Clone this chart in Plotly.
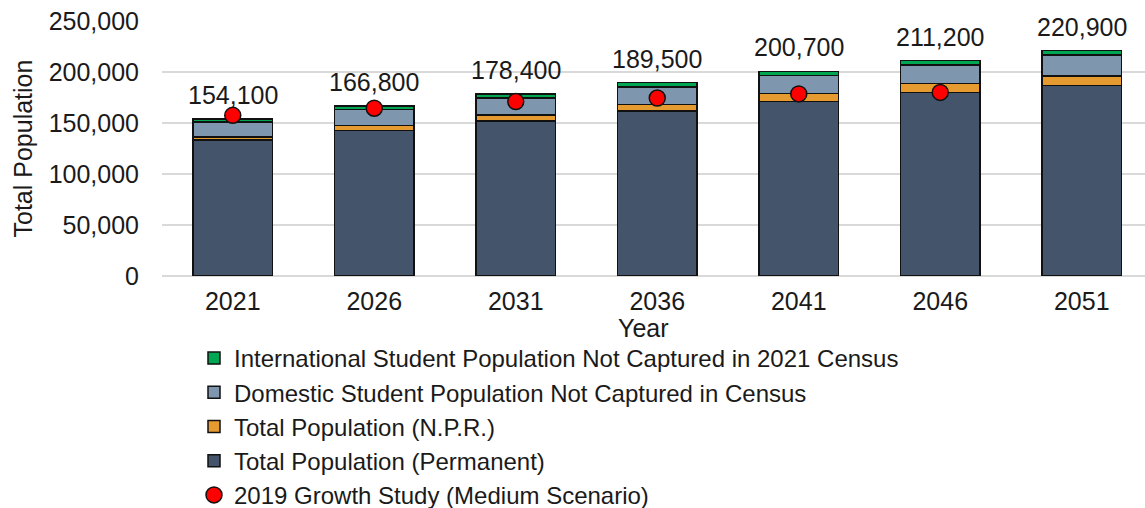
import plotly.graph_objects as go

# Projection years
years = ["2021", "2026", "2031", "2036", "2041", "2046", "2051"]

# Stacked population components
permanent = [133300, 142500, 152000, 161700, 171000, 180000, 186800]
npr = [3000, 5000, 5900, 6500, 7800, 8800, 9300]
domestic_students = [14700, 15600, 16500, 17000, 17900, 18200, 20800]
intl_students = [3100, 3700, 4000, 4300, 4000, 4200, 4000]

# 2019 Growth Study, medium scenario (no value for 2051)
growth_study_years = ["2021", "2026", "2031", "2036", "2041", "2046"]
growth_study = [157500, 164500, 171000, 174500, 178500, 180000]

y_ticks = [0, 50000, 100000, 150000, 200000, 250000]

totals = [p + n + d + i for p, n, d, i in zip(permanent, npr, domestic_students, intl_students)]
total_labels = [f"{round(t, -2):,.0f}" for t in totals]

FONT = "Liberation Sans, Arial, sans-serif"
TXT = "#1a1a1a"
FS = 25
OUTLINE = dict(color="#111111", width=1.5)

fig = go.Figure()

stack = [
    ("Total Population (Permanent)", permanent, "#44546A", 4),
    ("Total Population (N.P.R.)", npr, "#E69B30", 3),
    ("Domestic Student Population Not Captured in Census", domestic_students, "#7F97AE", 2),
    ("International Student Population Not Captured in 2021 Census", intl_students, "#00A651", 1),
]
for name, vals, color, rank in stack:
    fig.add_trace(go.Bar(
        x=years, y=vals, name=name,
        marker=dict(color=color, line=OUTLINE),
        legendrank=rank, legendgroup=name,
        hoverinfo="skip",
    ))

fig.add_trace(go.Scatter(
    x=growth_study_years, y=growth_study, mode="markers",
    name="2019 Growth Study (Medium Scenario)",
    marker=dict(color="#FF0000", size=16, line=dict(color="#111111", width=1.5)),
    legendrank=5, legendgroup="growth",
))

# Total labels above each bar (category index positions)
for idx, (tot, lab) in enumerate(zip(totals, total_labels)):
    fig.add_annotation(
        x=idx, y=tot, text=lab, showarrow=False,
        xanchor="center", yanchor="bottom", yshift=8,
        font=dict(size=FS, color=TXT, family=FONT),
    )

# Axis titles
fig.add_annotation(
    xref="paper", yref="paper", x=(643 - 162) / 983, y=-52 / 255,
    text="Year", showarrow=False, xanchor="center", yanchor="middle",
    font=dict(size=FS, color=TXT, family=FONT),
)
fig.add_annotation(
    xref="paper", yref="paper", x=-140 / 983, y=0.5,
    text="Total Population", textangle=-90, showarrow=False,
    xanchor="center", yanchor="middle",
    font=dict(size=FS, color=TXT, family=FONT),
)

fig.update_layout(
    width=1145, height=508,
    margin=dict(l=162, r=0, t=21, b=232, autoexpand=False),
    paper_bgcolor="white", plot_bgcolor="white",
    barmode="stack", bargap=0.435,
    font=dict(family=FONT, size=FS, color=TXT),
    showlegend=True,
    legend=dict(
        traceorder="normal", tracegroupgap=0,
        xref="container", yref="container",
        x=194 / 1145, y=1 - 336 / 508, xanchor="left", yanchor="top",
        font=dict(size=24, color=TXT, family=FONT),
        bgcolor="rgba(0,0,0,0)", itemwidth=30,
    ),
)

fig.update_xaxes(
    type="category", range=[-0.5, 6.447],
    showgrid=False, showline=False, ticks="",
    ticklabelstandoff=8,
    tickfont=dict(size=FS, color=TXT),
)
fig.update_yaxes(
    range=[0, 250000], tickvals=y_ticks, tickformat=",",
    showgrid=True, gridcolor="#D9D9D9", gridwidth=1.5,
    zeroline=True, zerolinecolor="#D9D9D9", zerolinewidth=1.5,
    showline=False, ticks="", ticklabelstandoff=22,
    tickfont=dict(size=FS, color=TXT),
)

fig.write_html("out.html")
